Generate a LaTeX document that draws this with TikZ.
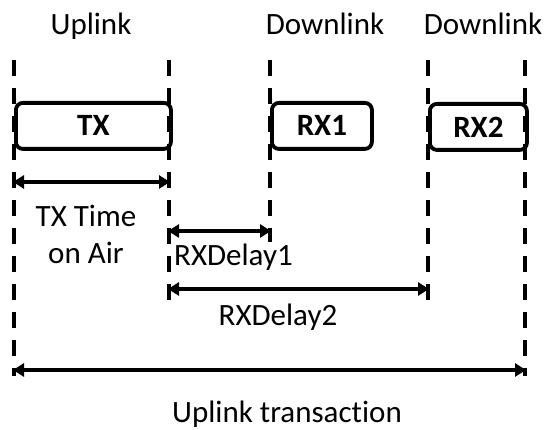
\documentclass[tikz,border=0pt]{standalone}
\usepackage{fontspec}
\setmainfont[Ligatures={NoCommon}]{Carlito}
\usetikzlibrary{arrows.meta}
\begin{document}
\begin{tikzpicture}[x=1pt,y=-1pt,
  vline/.style={line width=3.8pt,dash pattern=on 16pt off 12pt},
  slot/.style={draw,line width=3.8pt,rounded corners=7pt,minimum height=46pt,inner sep=0pt,anchor=north west,font=\fontsize{31}{33}\selectfont\bfseries},
  lbl/.style={font=\fontsize{31}{36}\selectfont,inner sep=0pt,anchor=base},
  span/.style={line width=3.5pt,{Triangle[length=11pt,width=13pt]}-{Triangle[length=11pt,width=13pt]},shorten <=-1pt,shorten >=-1pt}]
\useasboundingbox (0,0) rectangle (550,430);
% dashed time lines (each ends where its last measure ends)
\foreach \n/\x/\yb in {a/14/376,b/169/300,c/270/242,d/428/300,e/525/376}{
  \coordinate (\n top) at (\x,60);
  \coordinate (\n bot) at (\x,\yb);
  \draw[vline] (\n top) -- (\n bot);
}
% labels on top
\node[lbl] (up) at (91,35) {Uplink};
\node[lbl] (dn1) at (325,35) {Downlink};
\node[lbl] (dn2) at (483,35) {Downlink};
% slots
\node[slot,minimum width=155pt] (tx) at (14,101) {TX};
\node[slot,minimum width=100pt] (rx1) at (270,101) {RX1};
\node[slot,minimum width=97pt] (rx2) at (428,102) {RX2};
% spans
\coordinate (s1a) at (14,182); \coordinate (s1b) at (169,182);
\coordinate (s2a) at (169,231); \coordinate (s2b) at (270,231);
\coordinate (s3a) at (169,289); \coordinate (s3b) at (428,289);
\coordinate (s4a) at (14,370); \coordinate (s4b) at (525,370);
\draw[span] (s1a) -- (s1b);
\draw[span] (s2a) -- (s2b);
\draw[span] (s3a) -- (s3b);
\draw[span] (s4a) -- (s4b);
\node[lbl] (toa1) at (86,227) {TX Time};
\node[lbl] (toa2) at (86,264) {on Air};
\node[lbl,anchor=base west] (d1) at (174,266) {RXDelay1};
\node[lbl] (d2) at (278,326) {RXDelay2};
\node[lbl] (ut) at (287,423) {Uplink transaction};
\end{tikzpicture}
\end{document}
